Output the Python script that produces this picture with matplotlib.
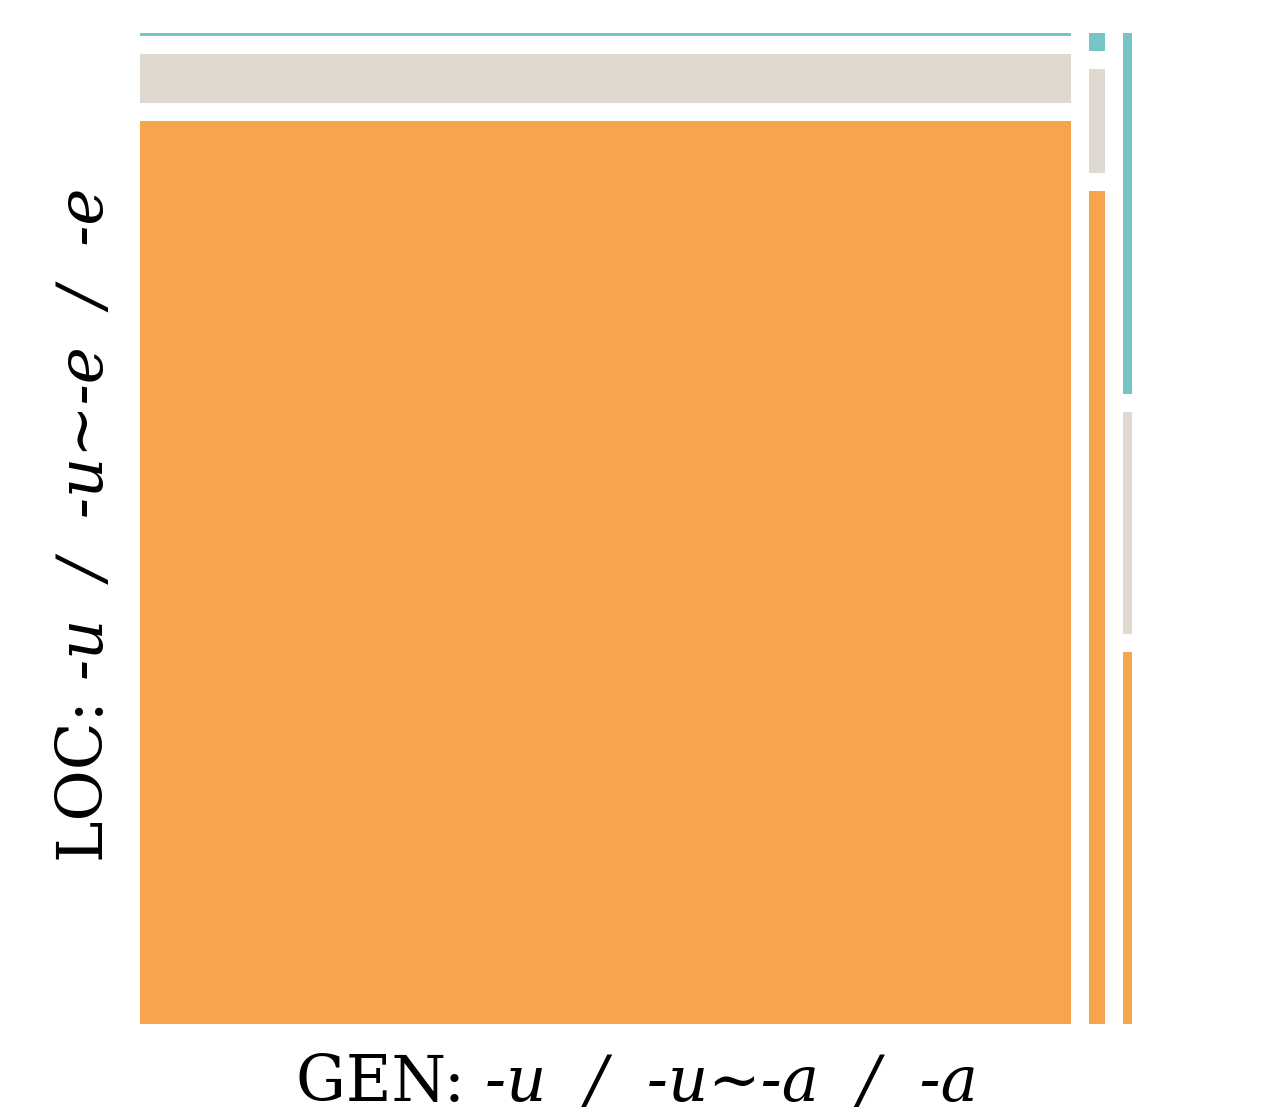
""" Mosaic plot: GEN vs LOC marking """

import numpy as np
import matplotlib.pyplot as plt

plt.rcParams['font.family'] = 'DejaVu Serif'

# column variable (GEN) and its share of the total
gen_levels = ['-u', '-u~-a', '-a']
gen_share = [0.9738, 0.0168, 0.0094]

# row variable (LOC), bottom to top, share inside each GEN column
loc_levels = ['-u', '-u~-e', '-e']
loc_share = {
    '-u':    [0.9455, 0.0513, 0.0032],
    '-u~-a': [0.8720, 0.1090, 0.0190],
    '-a':    [0.3900, 0.2320, 0.3780],
}
loc_colors = ['#f7a54c', '#e0d9d0', '#76c4c5']

W, H = 1267, 1113
fig = plt.figure(figsize=(W/100, H/100), dpi=100)
ax = fig.add_axes([140/W, (H-1024)/H, 992/W, 991/H])

GAP_X = 18/992                                   # gap between columns, axes units
GAP_Y = 18/991                                   # gap between tiles, axes units

usable_w = 1 - GAP_X*(len(gen_levels)-1)
usable_h = 1 - GAP_Y*(len(loc_levels)-1)

x = 0.0
for g, share in zip(gen_levels, gen_share):
    w = share*usable_w
    y = 0.0
    for i, p in enumerate(loc_share[g]):
        h = p*usable_h
        ax.bar(x, h, width=w, bottom=y, align='edge', color=loc_colors[i],
               edgecolor='none')
        y += h + GAP_Y
    x += w + GAP_X

ax.set_xlim(0, 1)
ax.set_ylim(0, 1)
ax.axis('off')

# axis labels: upright variable name + italic levels
FS = 45
sep = '  /  '
gen_text = sep.join(['-u', '-u\u223c-a', '-a'])
loc_text = sep.join(['-u', '-u\u223c-e', '-e'])

t1 = fig.text(0, 0, 'GEN: ', fontsize=FS, va='baseline', ha='left')
t2 = fig.text(0, 0, gen_text, fontsize=FS, style='italic',
              va='baseline', ha='left')
fig.canvas.draw()
r = fig.canvas.get_renderer()
w1 = t1.get_window_extent(r).width
w2 = t2.get_window_extent(r).width
x0 = 637 - (w1 + w2)/2
t1.set_position((x0/W, (H-1101)/H))
t2.set_position(((x0 + w1)/W, (H-1101)/H))

s1 = fig.text(0, 0, 'LOC: ', fontsize=FS, rotation=90, va='bottom', ha='left')
s2 = fig.text(0, 0, loc_text, fontsize=FS, style='italic',
              rotation=90, va='bottom', ha='left')
fig.canvas.draw()
h1 = s1.get_window_extent(r).height
h2 = s2.get_window_extent(r).height
y0 = (H-525) - (h1 + h2)/2
s1.set_position((55/W, y0/H))
s2.set_position((55/W, (y0 + h1)/H))

plt.savefig('out.png', dpi=100)
